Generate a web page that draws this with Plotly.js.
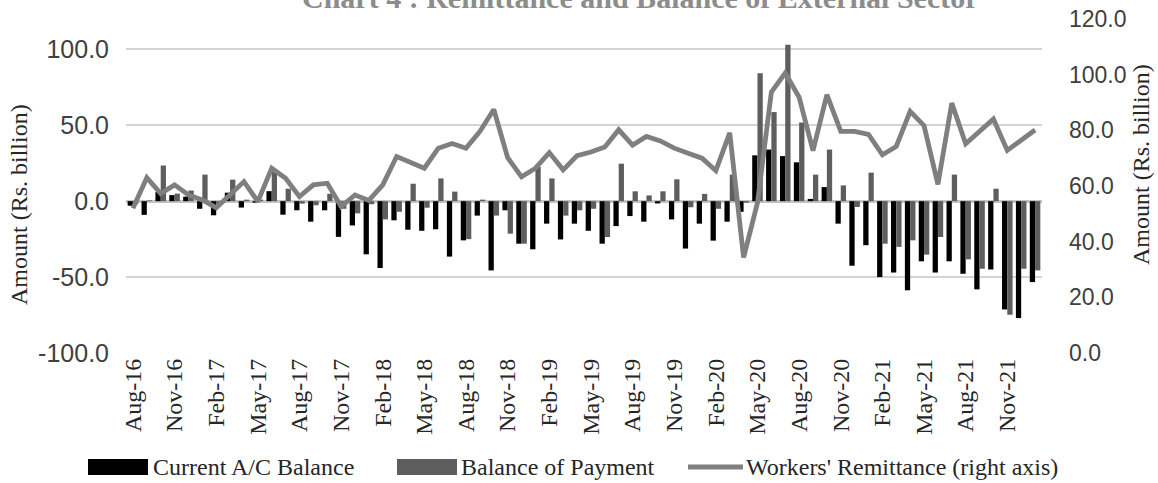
<!DOCTYPE html>
<html>
<head>
<meta charset="utf-8">
<script src="https://cdn.plot.ly/plotly-3.0.1.min.js"></script>
<style>html,body{margin:0;padding:0;background:#fff;}#chart{width:1158px;height:483px;}</style>
</head>
<body>
<div id="chart"></div>
<script>
// ---- Data (Rs. billion), monthly Aug-16 .. Jan-22 ----
var months = ["Aug-16","Sep-16","Oct-16","Nov-16","Dec-16","Jan-17","Feb-17","Mar-17","Apr-17","May-17","Jun-17","Jul-17",
  "Aug-17","Sep-17","Oct-17","Nov-17","Dec-17","Jan-18","Feb-18","Mar-18","Apr-18","May-18","Jun-18","Jul-18",
  "Aug-18","Sep-18","Oct-18","Nov-18","Dec-18","Jan-19","Feb-19","Mar-19","Apr-19","May-19","Jun-19","Jul-19",
  "Aug-19","Sep-19","Oct-19","Nov-19","Dec-19","Jan-20","Feb-20","Mar-20","Apr-20","May-20","Jun-20","Jul-20",
  "Aug-20","Sep-20","Oct-20","Nov-20","Dec-20","Jan-21","Feb-21","Mar-21","Apr-21","May-21","Jun-21","Jul-21",
  "Aug-21","Sep-21","Oct-21","Nov-21","Dec-21","Jan-22"];

var tickLabels = ["Aug-16","Nov-16","Feb-17","May-17","Aug-17","Nov-17","Feb-18","May-18","Aug-18","Nov-18","Feb-19",
  "May-19","Aug-19","Nov-19","Feb-20","May-20","Aug-20","Nov-20","Feb-21","May-21","Aug-21","Nov-21"];

var currentAccount = [-3, -9, 6, 4, 3, -5, -9.3, 5.6, -4.2, -1, 6.6, -8.9,
  -6, -13.5, -6, -23.5, -16, -35, -44, -12.6, -18.8, -19.5, -18.5, -36.5,
  -25.8, -9.5, -45.6, -6, -28, -31.7, -14.8, -25.2, -14.8, -19.5, -28, -16.4,
  -9.8, -13.5, -1.5, -12, -31.2, -14.8, -26, -13.5, -7, 30.2, 34, 29.7,
  25.6, 1.5, 9.3, -14.8, -42.5, -29, -50, -47, -58.7, -39.6, -47, -39.6,
  -47.8, -58.1, -45, -71.3, -77, -53.3];

var balanceOfPayment = [-2, 0.5, 23.5, 5, 7, 17.5, -2, 14.2, 1, 1, 19.2, 8.2,
  -1.6, -2.7, 4.9, -5, -8, -2, -12, -7, 11.5, -4.3, 15, 6.3,
  -25, 1, -9.5, -21.4, -28, 22.5, 15, -9.5, -6, -5, -23.6, 24.7,
  6.5, 3.8, 6.5, 14.4, -4, 4.8, -5, 17.5, -1, 84.3, 58.7, 103,
  51.8, 17.5, 34, 10.4, -3.8, 18.8, -28, -30.1, -25.8, -35.2, -23.6, 17.5,
  -38.3, -44.5, 8.2, -74.8, -44.5, -45.6];

var remittance = [52, 63, 57.3, 60.4, 56.8, 55, 52.2, 56.8, 61.6, 54.4, 66.4, 62.8,
  56.2, 60.4, 61, 52.6, 56.8, 54.8, 60.4, 70.6, 68.4, 66.4, 73.6, 75.3,
  73.6, 79.6, 87.5, 70.2, 63.3, 66.4, 72, 65.8, 70.9, 72.2, 74, 80.2,
  74.7, 77.8, 76.2, 73.6, 71.8, 70, 65.5, 79.1, 34.3, 54, 93.7, 100.6,
  91.9, 72.7, 92.8, 79.6, 79.6, 78.5, 71.2, 74.2, 86.8, 81.7, 60.6, 89.8,
  75.2, 79.6, 84.1, 72.8, 76.6, 80.1];

var leftTicks = [-100, -50, 0, 50, 100];
var leftTickText = ["-100.0", "-50.0", "0.0", "50.0", "100.0"];

var seriesNames = ["Current A/C Balance", "Balance of Payment", "Workers' Remittance (right axis)"];
var axisTitle = "Amount (Rs. billion)";
var chartTitle = "Chart 4 : Remittance and Balance of External Sector";

// ---- Styling ----
var W = 1158, H = 483;
var M = {l: 126, r: 116, t: 19, b: 130};
var serif = "Liberation Serif, Times New Roman, serif";
var sans = "Liberation Sans, Arial, sans-serif";
var cBlack = "#000000", cGrey = "#5e5e5e", cLine = "#7f7f7f", cText = "#262626";

var traces = [
  {type: "bar", name: seriesNames[0], x: months, y: currentAccount, marker: {color: cBlack}, yaxis: "y", showlegend: false},
  {type: "bar", name: seriesNames[1], x: months, y: balanceOfPayment, marker: {color: cGrey}, yaxis: "y", showlegend: false},
  {type: "scatter", mode: "lines", name: seriesNames[2], x: months, y: remittance, yaxis: "y2",
   line: {color: cLine, width: 4.8}, showlegend: false}
];

var pw = W - M.l - M.r, ph = H - M.t - M.b;
function px(x) { return (x - M.l) / pw; }
function py(y) { return (H - M.b - y) / ph; }

var legY = 467;
var shapes = [
  {type: "rect", xref: "paper", yref: "paper", x0: px(88), x1: px(148), y0: py(475), y1: py(459), fillcolor: cBlack, line: {width: 0}},
  {type: "rect", xref: "paper", yref: "paper", x0: px(397), x1: px(457), y0: py(475), y1: py(459), fillcolor: cGrey, line: {width: 0}},
  {type: "line", xref: "paper", yref: "paper", x0: px(688), x1: px(743), y0: py(legY), y1: py(legY), line: {color: cLine, width: 5}}
];
var legFont = {family: serif, size: 24, color: cText};
var titleFont = {family: serif, size: 24, color: cText};
var annotations = [
  {xref: "paper", yref: "paper", x: px(151), y: py(legY), xanchor: "left", yanchor: "middle", text: seriesNames[0], showarrow: false, font: legFont},
  {xref: "paper", yref: "paper", x: px(459), y: py(legY), xanchor: "left", yanchor: "middle", text: seriesNames[1], showarrow: false, font: legFont},
  {xref: "paper", yref: "paper", x: px(744), y: py(legY), xanchor: "left", yanchor: "middle", text: seriesNames[2], showarrow: false, font: legFont},
  {xref: "paper", yref: "paper", x: px(19), y: py(205), xanchor: "center", yanchor: "middle", textangle: -90,
   text: axisTitle, showarrow: false, font: titleFont},
  {xref: "paper", yref: "paper", x: px(1141), y: py(165), xanchor: "center", yanchor: "middle", textangle: -90,
   text: axisTitle, showarrow: false, font: titleFont},
  {xref: "paper", yref: "paper", x: px(640), y: py(16), xanchor: "center", yanchor: "bottom",
   text: "<b>" + chartTitle + "</b>", showarrow: false,
   font: {family: serif, size: 30, color: "#8c8c8c"}}
];

var layout = {
  width: W, height: H,
  margin: M,
  paper_bgcolor: "#ffffff", plot_bgcolor: "#ffffff",
  barmode: "group", bargap: 0.24, bargroupgap: 0,
  showlegend: false,
  xaxis: {
    type: "category", categoryorder: "array", categoryarray: months,
    tickmode: "array", tickvals: tickLabels, ticktext: tickLabels,
    tickangle: -90, tickfont: {family: serif, size: 24, color: cText},
    showgrid: false, showline: false, zeroline: false, ticks: "", automargin: false
  },
  yaxis: {
    range: [-100, 120], tickmode: "array", tickvals: leftTicks, ticktext: leftTickText,
    tickfont: {family: sans, size: 25, color: "#404040"},
    showgrid: true, gridcolor: "#d4d4d4", gridwidth: 2,
    zeroline: true, zerolinecolor: "#c4c4c4", zerolinewidth: 3,
    showline: false, ticks: "", ticklabelstandoff: 16, automargin: false
  },
  yaxis2: {
    overlaying: "y", side: "right", range: [0, 120], dtick: 20, tickformat: ".1f",
    tickfont: {family: sans, size: 23, color: "#404040"},
    showgrid: false, zeroline: false, showline: false, ticks: "", ticklabelstandoff: 26, automargin: false
  },
  shapes: shapes,
  annotations: annotations
};

Plotly.newPlot("chart", traces, layout, {displayModeBar: false, staticPlot: true});
</script>
</body>
</html>
